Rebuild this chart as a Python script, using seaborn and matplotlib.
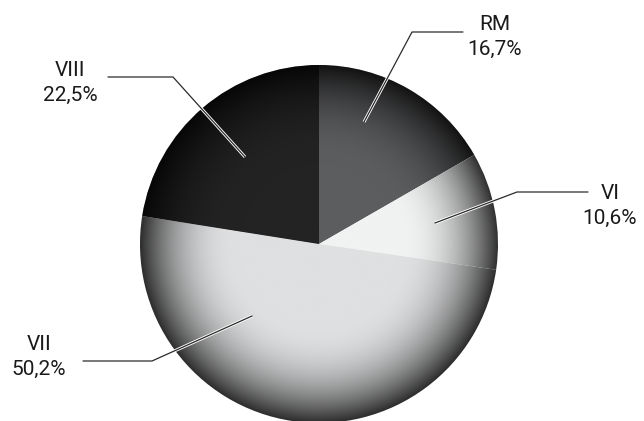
import numpy as np
import matplotlib
matplotlib.use("Agg")
import matplotlib.pyplot as plt
import seaborn as sns

# share of pupils per grade (%)
grades = ["RM", "VI", "VII", "VIII"]
shares = [16.7, 10.6, 50.2, 22.5]
share_labels = ["16,7%", "10,6%", "50,2%", "22,5%"]

base_grays = ["#5c5d5f", "#f1f2f2", "#dfe0e1", "#232323"]

W, H = 644, 421
cx, cy, R = 319, H - 244, 179

sns.set_theme(style="white")
plt.rcParams["font.family"] = ["Roboto", "DejaVu Sans"]

fig = plt.figure(figsize=(W / 100, H / 100), dpi=100)
ax = fig.add_axes([0, 0, 1, 1])

wedges, _ = ax.pie(shares, colors=base_grays, startangle=90, counterclock=False,
                   center=(cx, cy), radius=R, frame=True,
                   wedgeprops=dict(edgecolor="white", linewidth=0.4))
ax.set_xlim(0, W)
ax.set_ylim(0, H)
ax.set_aspect("equal")
ax.axis("off")

# radial shading: darker toward the rim
n = 600
xs = np.linspace(-1, 1, n)
gx, gy = np.meshgrid(xs, xs)
rr = np.sqrt(gx ** 2 + gy ** 2)
t = np.clip((rr - 0.45) / 0.55, 0, 1)
fade = 1 - 0.8 * t ** 2.2
for w, c in zip(wedges, base_grays):
    rgb = np.array(matplotlib.colors.to_rgb(c))
    img = np.ones((n, n, 4))
    img[..., :3] = rgb[None, None, :] * fade[..., None]
    im = ax.imshow(img, extent=(cx - R, cx + R, cy - R, cy + R), origin="lower",
                   interpolation="bilinear", zorder=2)
    im.set_clip_path(w)

# leader lines (pixel coords, y from top)
leaders = {
    "RM": [(364, 122), (412, 32), (463, 32)],
    "VI": [(435, 223), (517, 192), (588, 192)],
    "VII": [(252, 316), (152, 361), (83, 361)],
    "VIII": [(245, 157), (173, 77), (108, 77)],
}
text_pos = {"RM": (495, 37), "VI": (610, 206), "VII": (39, 357), "VIII": (70, 83)}

for g, lab in zip(grades, share_labels):
    pts = np.array(leaders[g], dtype=float)
    px, py = pts[:, 0], H - pts[:, 1]
    ax.plot(px, py, color="white", lw=2.2, zorder=3, solid_capstyle="butt")
    ax.plot(px, py, color="#2b2b2b", lw=0.9, zorder=4)
    tx, ty = text_pos[g]
    ax.text(tx, H - ty, f"{g}\n{lab}", ha="center", va="center", fontsize=15,
            color="#1a1a1a", linespacing=1.45, zorder=5)

fig.savefig("out.png", dpi=100, facecolor="white")
